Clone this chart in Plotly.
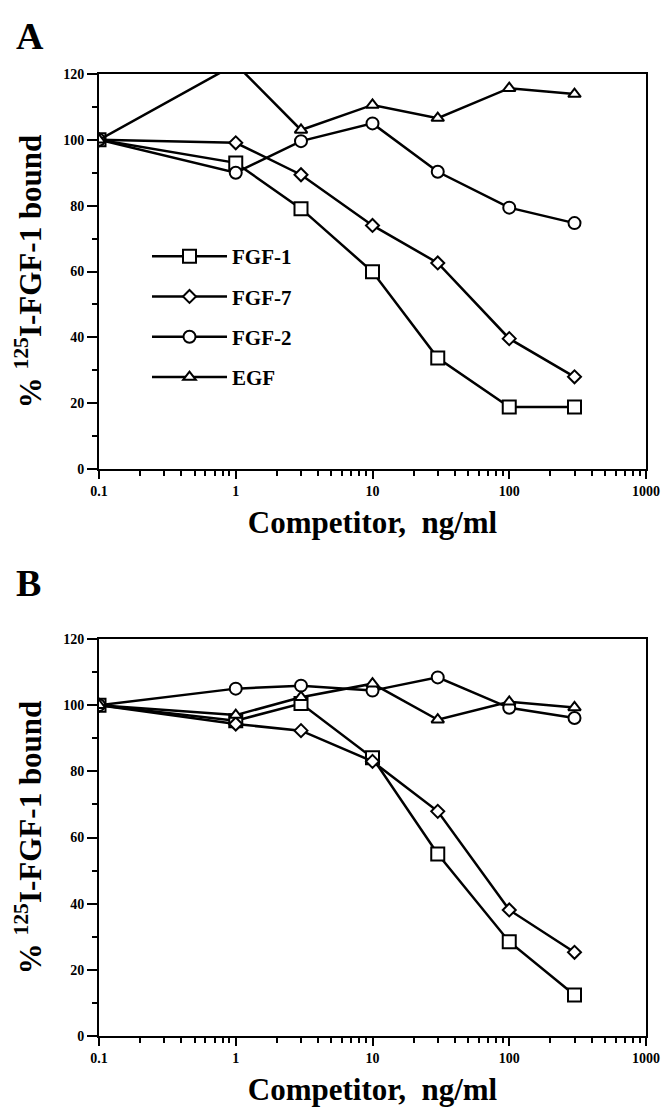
import plotly.graph_objects as go

conc = [0.1, 1, 3, 10, 30, 100, 300]

# Panel A
a_fgf1 = [100, 93.0, 79.1, 59.9, 33.7, 18.8, 18.8]
a_fgf7 = [100, 99.1, 89.4, 74.0, 62.6, 39.6, 28.0]
a_fgf2 = [100, 90.0, 99.6, 105.0, 90.3, 79.4, 74.7]
a_egf = [100, 123.0, 103.0, 110.6, 106.6, 115.7, 113.9]

# Panel B
b_fgf1 = [100, 95.3, 100.5, 84.1, 55.0, 28.5, 12.4]
b_fgf7 = [100, 94.3, 92.3, 83.0, 67.9, 38.1, 25.3]
b_fgf2 = [100, 105.0, 105.9, 104.4, 108.4, 99.2, 96.1]
b_egf = [100, 97.0, 102.4, 106.5, 95.6, 101.0, 99.3]

names = ["FGF-1", "FGF-7", "FGF-2", "EGF"]
symbols = ["square", "diamond", "circle", "triangle-up"]
sizes = [13, 10, 12, 11]

x_ticks = [0.1, 1, 10, 100, 1000]
x_ticktext = ["0.1", "1", "10", "100", "1000"]
y_ticks = [0, 20, 40, 60, 80, 100, 120]

FONT = "Liberation Serif"

fig = go.Figure()

for i, (ys, nm) in enumerate(zip([a_fgf1, a_fgf7, a_fgf2, a_egf], names)):
    fig.add_trace(go.Scatter(
        x=conc, y=ys, name=nm, mode="lines+markers",
        line=dict(color="black", width=2.5),
        marker=dict(symbol=symbols[i], size=sizes[i], color="white",
                    line=dict(color="black", width=2)),
        xaxis="x", yaxis="y", legendgroup=nm, showlegend=True))

for i, (ys, nm) in enumerate(zip([b_fgf1, b_fgf7, b_fgf2, b_egf], names)):
    fig.add_trace(go.Scatter(
        x=conc, y=ys, name=nm, mode="lines+markers",
        line=dict(color="black", width=2.5),
        marker=dict(symbol=symbols[i], size=sizes[i], color="white",
                    line=dict(color="black", width=2)),
        xaxis="x2", yaxis="y2", legendgroup=nm, showlegend=False))

W, H = 670, 1108
ML, MR = 99, 24
PW = W - ML - MR

def xaxis_cfg(anchor):
    return dict(
        type="log", range=[-1, 3], domain=[0, 1], anchor=anchor, automargin=False,
        tickvals=x_ticks, ticktext=x_ticktext,
        ticks="outside", ticklen=8, tickwidth=2, tickcolor="black",
        minor=dict(ticks="outside", ticklen=5, tickwidth=1.5, tickcolor="black", dtick="D1"),
        showline=True, linewidth=2, linecolor="black", mirror=True,
        showgrid=False, zeroline=False,
        tickfont=dict(family=FONT, size=14, color="black", weight="bold"),
        title=dict(text="Competitor,  ng/ml", standoff=14,
                   font=dict(family=FONT, size=31, color="black", weight="bold")),
    )

def yaxis_cfg(anchor, dom):
    return dict(
        range=[0, 120], domain=dom, anchor=anchor, automargin=False,
        tickvals=y_ticks, ticks="outside", ticklen=10, tickwidth=2, tickcolor="black",
        minor=dict(ticks="outside", ticklen=5, tickwidth=1.5, tickcolor="black", dtick=10),
        showline=True, linewidth=2, linecolor="black", mirror=True,
        showgrid=False, zeroline=False,
        tickfont=dict(family=FONT, size=14, color="black", weight="bold"),
        title=dict(text="% <sup>125</sup>I-FGF-1 bound", standoff=12,
                   font=dict(family=FONT, size=31, color="black", weight="bold")),
    )

fig.update_layout(
    width=W, height=H,
    margin=dict(l=ML, r=MR, t=0, b=0),
    paper_bgcolor="white", plot_bgcolor="white",
    xaxis=xaxis_cfg("y"),
    yaxis=yaxis_cfg("x", [1 - 469 / H, 1 - 74 / H]),
    xaxis2=xaxis_cfg("y2"),
    yaxis2=yaxis_cfg("x2", [1 - 1036 / H, 1 - 639 / H]),
    legend=dict(
        x=(147 - ML) / PW, y=1 - 236 / H, xanchor="left", yanchor="top",
        bgcolor="rgba(0,0,0,0)", borderwidth=0,
        itemwidth=75, tracegroupgap=10,
        font=dict(family=FONT, size=21, color="black", weight="bold"),
    ),
    annotations=[
        dict(text="A", x=-85 / PW, y=1 - 36 / H, xref="paper", yref="paper",
             xanchor="left", yanchor="middle", showarrow=False,
             font=dict(family=FONT, size=38, color="black", weight="bold")),
        dict(text="B", x=-85 / PW, y=1 - 583 / H, xref="paper", yref="paper",
             xanchor="left", yanchor="middle", showarrow=False,
             font=dict(family=FONT, size=38, color="black", weight="bold")),
    ],
)

fig.write_html("out.html", config={"displayModeBar": False},
               post_script="document.body.style.margin='0';document.body.style.padding='0';")
